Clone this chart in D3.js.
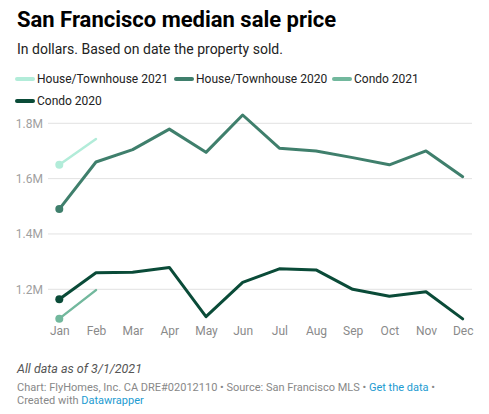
<!DOCTYPE html>
<html>
<head>
<meta charset="utf-8">
<script src="https://cdn.jsdelivr.net/npm/d3@7"></script>
<style>
  body { margin: 0; background: #fff; font-family: Roboto, "Noto Sans", sans-serif; }
</style>
</head>
<body>
<svg id="chart"></svg>
<script>
const months = ["Jan", "Feb", "Mar", "Apr", "May", "Jun", "Jul", "Aug", "Sep", "Oct", "Nov", "Dec"];
const house2021 = [1.65, 1.743];
const house2020 = [1.49, 1.66, 1.705, 1.779, 1.695, 1.83, 1.71, 1.70, 1.676, 1.65, 1.70, 1.607];
const condo2021 = [1.094, 1.197];
const condo2020 = [1.164, 1.26, 1.262, 1.279, 1.101, 1.225, 1.274, 1.27, 1.20, 1.175, 1.191, 1.093];
const yTicks = [1.2, 1.4, 1.6, 1.8];

const series = [
  { name: "House/Townhouse 2021", values: house2021, color: "#b2ecd9", width: 2.5 },
  { name: "House/Townhouse 2020", values: house2020, color: "#3f7f6c", width: 3 },
  { name: "Condo 2021", values: condo2021, color: "#72b89d", width: 2.5 },
  { name: "Condo 2020", values: condo2020, color: "#0a4b38", width: 3 },
];

const width = 489, height = 414;
const svg = d3.select("#chart").attr("width", width).attr("height", height);

// header
svg.append("text").attr("x", 17).attr("y", 27)
  .attr("font-size", 22).attr("font-weight", 700).attr("fill", "#000")
  .text("San Francisco median sale price");
svg.append("text").attr("x", 17).attr("y", 54)
  .attr("font-size", 14).attr("fill", "#222")
  .text("In dollars. Based on date the property sold.");

// legend
const legendPos = [[17, 79], [176, 79], [334, 79], [17, 101]];
const legend = svg.append("g").selectAll("g").data(series).join("g")
  .attr("transform", (d, i) => `translate(${legendPos[i][0]},${legendPos[i][1]})`);
legend.append("line").attr("x1", 0).attr("x2", 16)
  .attr("stroke", d => d.color).attr("stroke-width", 4).attr("stroke-linecap", "round");
legend.append("text").attr("x", 20).attr("dy", "0.35em")
  .attr("font-size", 12).attr("fill", "#222").text(d => d.name);

// scales
const x = d3.scalePoint().domain(months).range([59.3, 462.7]);
const y = d3.scaleLinear().domain([1.2, 1.8]).range([289.3, 123.3]);

// grid + y labels
const grid = svg.append("g");
grid.selectAll("line").data(yTicks).join("line")
  .attr("x1", 48).attr("x2", 472)
  .attr("y1", d => y(d)).attr("y2", d => y(d))
  .attr("stroke", "#e2e2e2").attr("stroke-width", 1);
grid.selectAll("text").data(yTicks).join("text")
  .attr("x", 43).attr("y", d => y(d)).attr("dy", "0.35em")
  .attr("text-anchor", "end").attr("font-size", 12).attr("fill", "#a0a0a0")
  .text(d => d3.format(".1f")(d) + "M");

// x axis
const xAxis = svg.append("g").attr("transform", "translate(0,331)")
  .call(d3.axisBottom(x).tickSize(0).tickPadding(0));
xAxis.select(".domain").remove();
xAxis.selectAll("text").attr("font-size", 12).attr("fill", "#8a8a8a")
  .attr("font-family", "Roboto, sans-serif").attr("dy", "0.35em");

// lines
const line = d3.line().x((d, i) => x(months[i])).y(d => y(d));
const lines = svg.append("g").selectAll("g").data(series).join("g");
lines.append("path")
  .attr("d", d => line(d.values))
  .attr("fill", "none").attr("stroke", d => d.color)
  .attr("stroke-width", d => d.width)
  .attr("stroke-linejoin", "round").attr("stroke-linecap", "round");
lines.append("circle")
  .attr("cx", x(months[0])).attr("cy", d => y(d.values[0]))
  .attr("r", 4).attr("fill", d => d.color);

// footer
svg.append("text").attr("x", 17).attr("y", 373)
  .attr("font-size", 12.5).attr("font-style", "italic").attr("fill", "#555")
  .text("All data as of 3/1/2021");
const f1 = svg.append("text").attr("x", 17).attr("y", 391)
  .attr("font-size", 11).attr("fill", "#888");
f1.append("tspan").text("Chart: FlyHomes, Inc. CA DRE#02012110 • Source: San Francisco MLS • ");
f1.append("tspan").attr("fill", "#1d9bd1").text("Get the data");
f1.append("tspan").text(" •");
const f2 = svg.append("text").attr("x", 17).attr("y", 404)
  .attr("font-size", 11).attr("fill", "#888");
f2.append("tspan").text("Created with ");
f2.append("tspan").attr("fill", "#1d9bd1").text("Datawrapper");
</script>
</body>
</html>
